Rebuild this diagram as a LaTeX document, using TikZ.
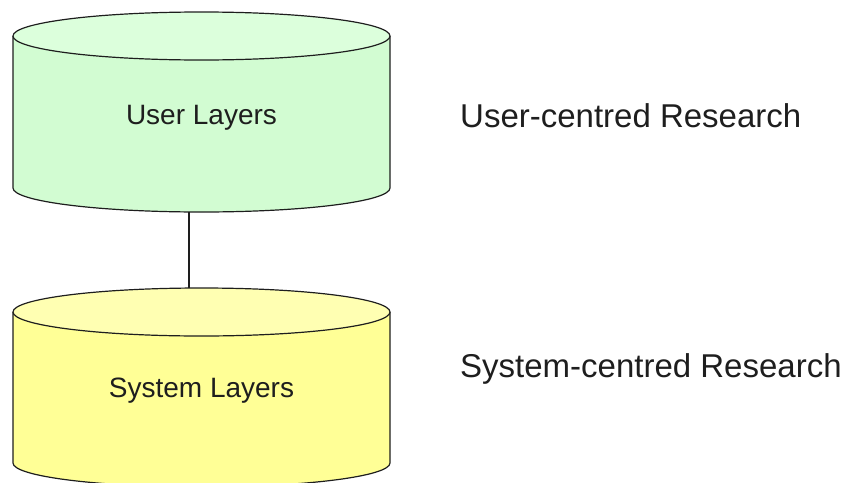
\documentclass[tikz,border=0pt]{standalone}
\usepackage{fontspec}
\setmainfont{Liberation Sans}
\definecolor{ubody}{RGB}{210,252,210}
\definecolor{utop}{RGB}{220,255,220}
\definecolor{sbody}{RGB}{255,255,150}
\definecolor{stop}{RGB}{255,255,178}
\definecolor{ink}{RGB}{30,30,30}
\tikzset{
  edge/.style={draw=ink, line width=1.2pt},
  inlabel/.style={font=\fontsize{28}{32}\selectfont, text=ink, inner sep=0pt},
  sidelabel/.style={font=\fontsize{33}{38}\selectfont, text=ink, inner sep=0pt, anchor=base west},
}
\begin{document}
\begin{tikzpicture}[x=1pt,y=-1pt]
\useasboundingbox (0,0) rectangle (845,482);
% User cylinder
\fill[ubody] (13,36) -- (13,188) arc[start angle=180,end angle=360,x radius=188.5pt,y radius=24pt] -- (390,36) -- cycle;
\draw[edge] (13,36) -- (13,188) arc[start angle=180,end angle=360,x radius=188.5pt,y radius=24pt] -- (390,36);
\filldraw[edge, fill=utop] (201.5,36) ellipse[x radius=188.5pt, y radius=24pt];
% System cylinder
\fill[sbody] (13,312) -- (13,463) arc[start angle=180,end angle=360,x radius=188.5pt,y radius=24pt] -- (390,312) -- cycle;
\draw[edge] (13,312) -- (13,463) arc[start angle=180,end angle=360,x radius=188.5pt,y radius=24pt] -- (390,312);
\filldraw[edge, fill=stop] (201.5,312) ellipse[x radius=188.5pt, y radius=24pt];
% connector endpoints
\coordinate (ubot) at (189,211.5);
\coordinate (stopc) at (189,288);
\draw[edge] (ubot) -- (stopc);
% labels
\node[inlabel, anchor=base] (ul) at (201.5,124) {User Layers};
\node[inlabel, anchor=base] (sl) at (201.5,397) {System Layers};
\node[sidelabel] (ur) at (460,127) {User-centred Research};
\node[sidelabel] (sr) at (460,377) {System-centred Research};
\end{tikzpicture}
\end{document}
